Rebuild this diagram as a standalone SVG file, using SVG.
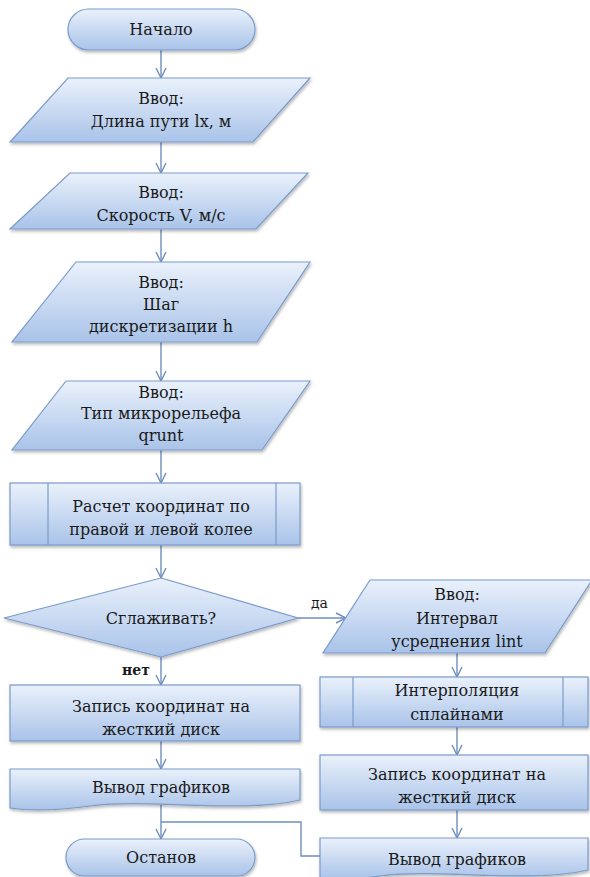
<svg xmlns="http://www.w3.org/2000/svg" width="590" height="877" viewBox="0 0 590 877">
<defs>
<linearGradient id="g" x1="0" y1="0" x2="0" y2="1">
<stop offset="0" stop-color="#eaf1fb"/>
<stop offset="1" stop-color="#a9c3e9"/>
</linearGradient>
<filter id="sh" x="-10%" y="-10%" width="120%" height="140%">
<feDropShadow dx="1" dy="2" stdDeviation="1.5" flood-color="#000" flood-opacity="0.28"/>
</filter>
<marker id="ar" viewBox="0 0 12 12" refX="11" refY="6" markerWidth="12" markerHeight="12" markerUnits="userSpaceOnUse" orient="auto">
<polyline points="1,1 11,6 1,11" fill="none" stroke="#6f8fc0" stroke-width="1.4"/>
</marker>
<style>
.s{fill:url(#g);stroke:#7a9bcb;stroke-width:1.2;filter:url(#sh)}
.l{fill:none;stroke:#7a9bcb;stroke-width:1.2}
.t{font-size:16px;fill:#1a1a1a;text-anchor:middle}
.lb{font-size:14px;fill:#1a1a1a}
.c{fill:none;stroke:#6f8fc0;stroke-width:1.4}
</style>
</defs>
<g font-family="DejaVu Serif, Liberation Serif, serif">
<g id="connectors">
<line class="c" x1="161" y1="50" x2="161" y2="78" marker-end="url(#ar)"/>
<line class="c" x1="161" y1="142" x2="161" y2="173" marker-end="url(#ar)"/>
<line class="c" x1="161" y1="229" x2="161" y2="262" marker-end="url(#ar)"/>
<line class="c" x1="161" y1="342" x2="161" y2="381" marker-end="url(#ar)"/>
<line class="c" x1="161" y1="450" x2="161" y2="483" marker-end="url(#ar)"/>
<line class="c" x1="161" y1="545" x2="161" y2="578" marker-end="url(#ar)"/>
<line class="c" x1="161" y1="657" x2="161" y2="685" marker-end="url(#ar)"/>
<line class="c" x1="161" y1="741" x2="161" y2="769" marker-end="url(#ar)"/>
<line class="c" x1="161" y1="805" x2="161" y2="839" marker-end="url(#ar)"/>
<line class="c" x1="298" y1="618" x2="346" y2="618" marker-end="url(#ar)"/>
<line class="c" x1="457" y1="653" x2="457" y2="677" marker-end="url(#ar)"/>
<line class="c" x1="457" y1="727" x2="457" y2="755" marker-end="url(#ar)"/>
<line class="c" x1="457" y1="810" x2="457" y2="838" marker-end="url(#ar)"/>
<polyline class="c" points="320,856 301,856 301,822 161,822"/>
<text class="lb" x="311" y="608">да</text>
<text class="lb" x="122" y="675" font-weight="bold">нет</text>
</g>

<g id="start">
<rect class="s" x="68" y="9" width="187" height="41" rx="20.5"/>
<text class="t" x="161" y="35">Начало</text>
</g>

<g id="in1">
<polygon class="s" points="68,78 310,78 253,142 10,142"/>
<text class="t" x="161" y="104">Ввод:</text>
<text class="t" x="161" y="127">Длина пути lx, м</text>
</g>

<g id="in2">
<polygon class="s" points="70,173 308,173 256,229 10,229"/>
<text class="t" x="161" y="198">Ввод:</text>
<text class="t" x="161" y="221">Скорость V, м/с</text>
</g>

<g id="in3">
<polygon class="s" points="76,262 310,262 257,342 12,342"/>
<text class="t" x="161" y="288">Ввод:</text>
<text class="t" x="161" y="310">Шаг</text>
<text class="t" x="161" y="332">дискретизации h</text>
</g>

<g id="in4">
<polygon class="s" points="66,381 310,381 262,450 12,450"/>
<text class="t" x="161" y="398">Ввод:</text>
<text class="t" x="161" y="419">Тип микрорельефа</text>
<text class="t" x="161" y="441">qrunt</text>
</g>

<g id="calc">
<rect class="s" x="10" y="483" width="290" height="62"/>
<line class="l" x1="48" y1="483" x2="48" y2="545"/>
<line class="l" x1="276" y1="483" x2="276" y2="545"/>
<text class="t" x="161" y="512">Расчет координат по</text>
<text class="t" x="161" y="535">правой и левой колее</text>
</g>

<g id="decision">
<polygon class="s" points="161,578 298,618 161,657 4,618"/>
<text class="t" x="161" y="624">Сглаживать?</text>
</g>

<g id="save1">
<rect class="s" x="10" y="685" width="290" height="56"/>
<text class="t" x="161" y="712">Запись  координат на</text>
<text class="t" x="161" y="735">жесткий диск</text>
</g>

<g id="out1">
<path class="s" d="M10,769 H300 V800 C240,814 150,798 90,806 C60,810 30,811 10,808 Z"/>
<text class="t" x="161" y="793">Вывод графиков</text>
</g>

<g id="stop">
<rect class="s" x="66" y="839" width="189" height="37" rx="18.5"/>
<text class="t" x="161" y="863">Останов</text>
</g>

<g id="in5">
<polygon class="s" points="370,580 592,580 545,653 323,653"/>
<text class="t" x="457" y="600">Ввод:</text>
<text class="t" x="457" y="624">Интервал</text>
<text class="t" x="457" y="647">усреднения lint</text>
</g>

<g id="interp">
<rect class="s" x="320" y="677" width="268" height="50"/>
<line class="l" x1="353" y1="677" x2="353" y2="727"/>
<line class="l" x1="563" y1="677" x2="563" y2="727"/>
<text class="t" x="457" y="696">Интерполяция</text>
<text class="t" x="457" y="720">сплайнами</text>
</g>

<g id="save2">
<rect class="s" x="320" y="755" width="268" height="55"/>
<text class="t" x="457" y="780">Запись  координат на</text>
<text class="t" x="457" y="803">жесткий диск</text>
</g>

<g id="out2">
<path class="s" d="M320,838 H588 V870 C530,884 440,868 380,876 C360,879 340,880 320,878 Z"/>
<text class="t" x="457" y="865">Вывод графиков</text>
</g>
</g>
</svg>
